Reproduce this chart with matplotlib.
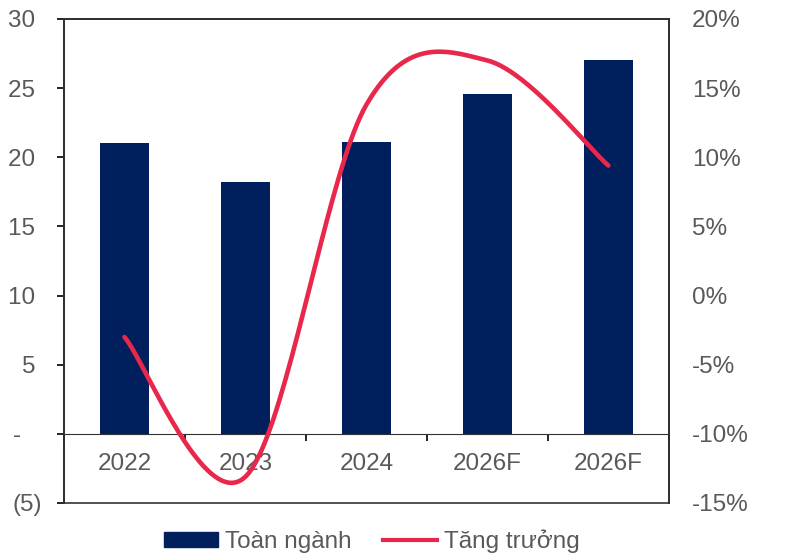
import numpy as np
import matplotlib
matplotlib.use("Agg")
import matplotlib.pyplot as plt
from matplotlib.patches import Patch
from matplotlib.lines import Line2D

plt.rcParams['font.family'] = ['Liberation Sans', 'DejaVu Sans']
plt.rcParams['font.size'] = 17.5

# データ
categories = ["2022", "2023", "2024", "2026F", "2026F"]
toan_nganh = [21.0, 18.2, 21.1, 24.6, 27.0]
tang_truong = [-3.0, -13.1, 13.8, 17.0, 9.4]  # %
left_ticks = [30, 25, 20, 15, 10, 5, 0, -5]
left_labels = ["30 ", "25 ", "20 ", "15 ", "10 ", "5 ", "-   ", "(5)"]
right_ticks = [20, 15, 10, 5, 0, -5, -10, -15]
right_labels = ["20%", "15%", "10%", "5%", "0%", "-5%", "-10%", "-15%"]

navy = "#001F5C"
red = "#E8274B"
txt = "#595959"


def smooth(p, n=40):
    # Excel風のスムージング（Catmull-Rom → ベジェ）
    p = np.asarray(p, dtype=float)
    q = np.vstack([p[0], p, p[-1]])
    out = []
    for i in range(1, len(q) - 2):
        p0, p1, p2, p3 = q[i - 1], q[i], q[i + 1], q[i + 2]
        c1 = p1 + (p2 - p0) / 6
        c2 = p2 - (p3 - p1) / 6
        t = np.linspace(0, 1, n)[:, None]
        seg = (1 - t) ** 3 * p1 + 3 * (1 - t) ** 2 * t * c1 + 3 * (1 - t) * t ** 2 * c2 + t ** 3 * p2
        out.append(seg if i == 1 else seg[1:])
    return np.vstack(out)


fig = plt.figure(figsize=(8, 5.58), dpi=100)
ax = fig.add_axes([0.08, 0.0986, 0.756, 0.8674])
x = np.arange(len(categories))

ax.bar(x, toan_nganh, width=0.4, color=navy, zorder=2)
ax.set_xlim(-0.5, len(categories) - 0.5)
ax.set_ylim(-5, 30)
ax.set_yticks(left_ticks)
ax.set_yticklabels(left_labels)
ax.tick_params(axis='y', direction='out', length=5, width=1.2, pad=11, colors='black', labelcolor=txt)

ax.spines['bottom'].set_position(('data', 0))
ax.spines['bottom'].set_color('#333333')
ax.set_xticks(x)
ax.set_xticklabels(categories)
ax.set_xticks(np.arange(len(categories) + 1) - 0.5, minor=True)
ax.tick_params(axis='x', which='major', length=0, pad=14, labelcolor=txt)
ax.tick_params(axis='x', which='minor', direction='out', length=5, width=1.2, color='black')
for s in ['left', 'top', 'right']:
    ax.spines[s].set_color('black')
    ax.spines[s].set_linewidth(1.2)

ax2 = ax.twinx()
ax2.set_ylim(-15, 20)
ax2.set_xlim(ax.get_xlim())
# 画面座標で平滑化してからデータ座標に戻す
pts = ax2.transData.transform(np.column_stack([x, tang_truong]))
curve = ax2.transData.inverted().transform(smooth(pts))
ax2.plot(curve[:, 0], curve[:, 1], color=red, lw=3.3, solid_capstyle='round', zorder=3)
ax2.set_yticks(right_ticks)
ax2.set_yticklabels(right_labels)
ax2.tick_params(axis='y', length=0, pad=16.5, labelcolor=txt)
for s in ['left', 'top', 'right', 'bottom']:
    ax2.spines[s].set_color('#333333')
    ax2.spines[s].set_linewidth(1.2)

handles = [Patch(facecolor=navy, edgecolor=navy), Line2D([0], [0], color=red, lw=3)]
leg = fig.legend(handles, ["Toàn ngành", "Tăng trưởng"], loc='center', bbox_to_anchor=(0.465, 0.03),
                 ncol=2, frameon=False, handlelength=2.2, handleheight=0.55,
                 handletextpad=0.3, columnspacing=1.3, labelcolor=txt)

fig.savefig("out.png", dpi=100)
